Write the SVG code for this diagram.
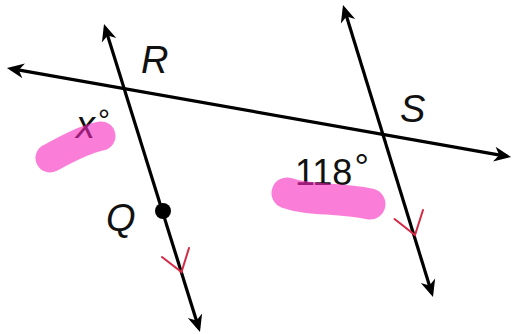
<svg xmlns="http://www.w3.org/2000/svg" width="515" height="334" viewBox="0 0 515 334">
  <style>
    .ln { stroke: #000; stroke-width: 3.2; fill: none; marker-end: url(#ah); marker-start: url(#ah); }
    .tick { stroke: #d42a45; stroke-width: 2; fill: none; stroke-linecap: round; stroke-linejoin: miter; }
    .lbl { font-family: "Liberation Sans", "DejaVu Sans", sans-serif; fill: #111; }
    .it { font-style: italic; font-size: 38px; }
    .num { font-size: 36px; }
    .blob { stroke: #f728be; stroke-opacity: 0.6; fill: none; stroke-linecap: round; stroke-linejoin: round; }
  </style>
  <defs>
    <marker id="ah" markerUnits="userSpaceOnUse" viewBox="-16 -9 22 18" markerWidth="22" markerHeight="18" refX="0" refY="0" orient="auto-start-reverse">
      <path d="M4,0 L-13,-7.5 L-8,0 L-13,7.5 Z" fill="#000"/>
    </marker>
  </defs>
  <rect width="515" height="334" fill="#fff"/>

  <g id="lines">
    <line id="transversal" class="ln" x1="10.9" y1="68.7" x2="507.1" y2="156.3"/>
    <line id="lineR" class="ln" x1="105.2" y1="27.8" x2="198.8" y2="328.2"/>
    <line id="lineS" class="ln" x1="344.2" y1="8.8" x2="431.8" y2="293.2"/>
  </g>

  <g id="ticks">
    <polyline class="tick" points="162,257 181.5,272 189,248"/>
    <polyline class="tick" points="394.5,219 415,235 423,210"/>
  </g>

  <g id="pointQ">
    <circle cx="163" cy="211" r="8" fill="#000"/>
    <text class="lbl it" x="106" y="231">Q</text>
  </g>

  <g id="labelR"><text class="lbl it" x="141" y="73">R</text></g>
  <g id="labelS"><text class="lbl it" x="400" y="122">S</text></g>

  <g id="angleX">
    <text class="lbl it" x="76" y="138">x<tspan dx="3" dy="-8" font-style="normal" font-size="30">°</tspan></text>
  </g>
  <g id="angle118">
    <text class="lbl num" x="295" y="185">118<tspan dx="2" dy="-5">°</tspan></text>
  </g>

  <g id="highlights">
    <path class="blob" stroke-width="29" d="M50,158 C65,150 82,140 101,136"/>
    <path class="blob" stroke-width="31" d="M287,193 C310,201 335,197 370,204"/>
  </g>
</svg>
